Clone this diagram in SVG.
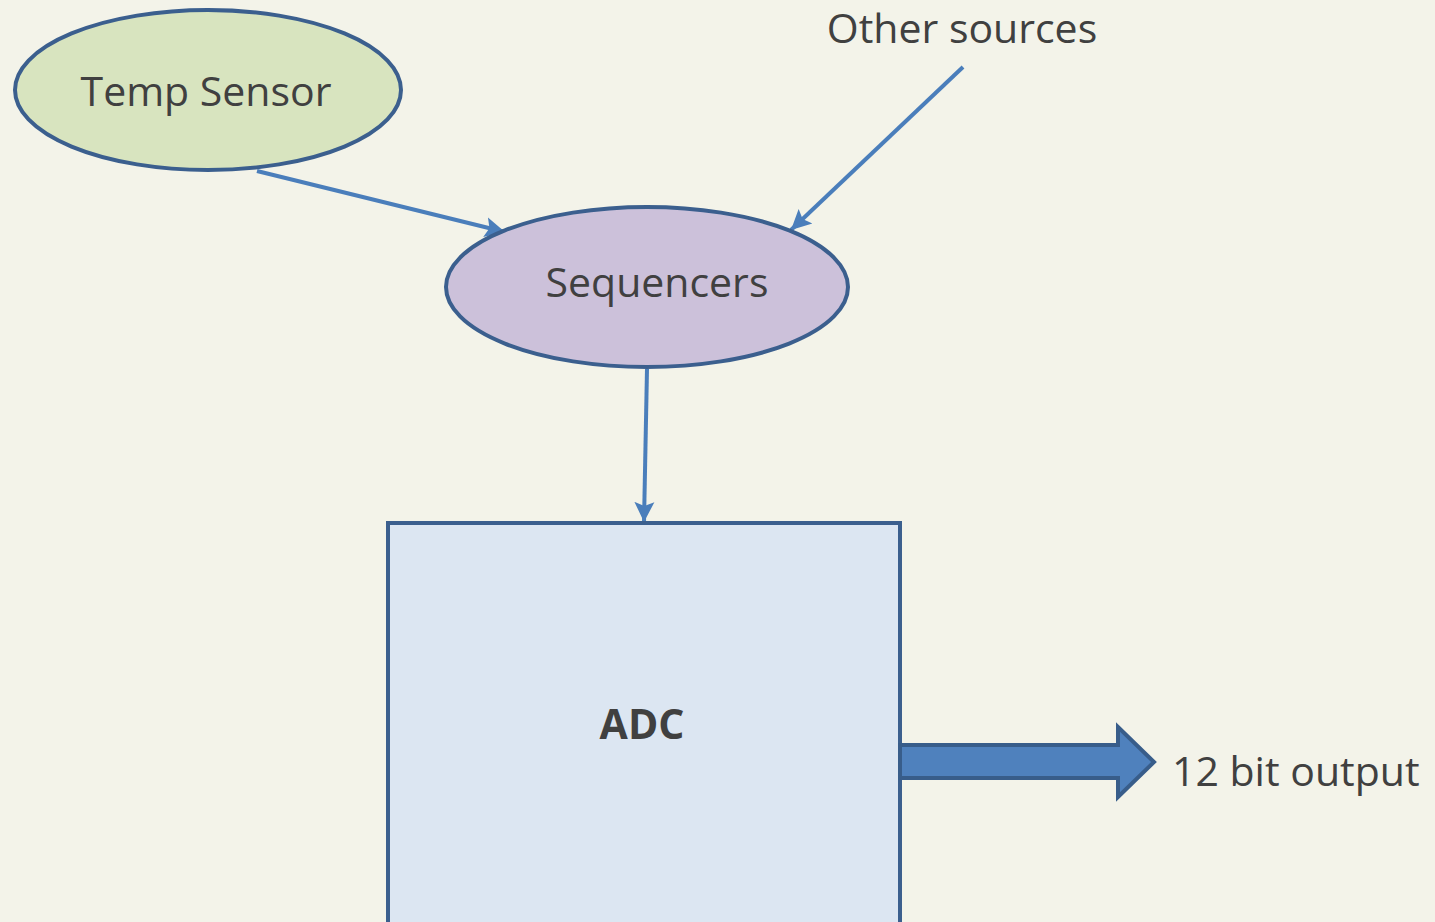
<svg xmlns="http://www.w3.org/2000/svg" width="1435" height="922" viewBox="0 0 1435 922">
<style>
.lbl{font-family:"Open Sans","Noto Sans","Liberation Sans",sans-serif;fill:#404040;font-size:41px}
.node{stroke:#3b5f8e;stroke-width:4}
.con{stroke:#4a7ebb;stroke-width:4;fill:none}
</style>
<defs>
<marker id="ah" markerUnits="userSpaceOnUse" markerWidth="24" markerHeight="24" refX="20" refY="10" orient="auto" viewBox="0 0 24 20">
<path d="M0,0 L20,10 L0,20 L4,10 Z" fill="#4a7ebb"/>
</marker>
</defs>
<rect width="1435" height="922" fill="#f3f3e9"/>
<g id="connectors">
<line class="con" x1="257" y1="171" x2="505" y2="232" marker-end="url(#ah)"/>
<line class="con" x1="963" y1="67" x2="791" y2="230" marker-end="url(#ah)"/>
<line class="con" x1="647" y1="369" x2="644" y2="522" marker-end="url(#ah)"/>
</g>
<g id="temp-sensor">
<ellipse class="node" cx="208" cy="90" rx="193" ry="80" fill="#d8e4bf"/>
<text class="lbl" x="206" y="106" text-anchor="middle">Temp Sensor</text>
</g>
<g id="sequencers">
<ellipse class="node" cx="647" cy="287" rx="201" ry="80" fill="#ccc1da"/>
<text class="lbl" x="657" y="297" text-anchor="middle">Sequencers</text>
</g>
<g id="other-sources">
<text class="lbl" x="962" y="43" text-anchor="middle">Other sources</text>
</g>
<g id="adc">
<rect class="node" x="388" y="523" width="512" height="410" fill="#dce6f2"/>
<text class="lbl" x="642" y="739" text-anchor="middle" font-weight="bold">ADC</text>
</g>
<g id="output-arrow">
<path d="M900,745 L1118,745 L1118,727 L1154,762 L1118,797 L1118,778 L900,778 Z" fill="#4f81bd" stroke="#385d8a" stroke-width="4"/>
</g>
<g id="output">
<text class="lbl" x="1172" y="786">12 bit output</text>
</g>
</svg>
